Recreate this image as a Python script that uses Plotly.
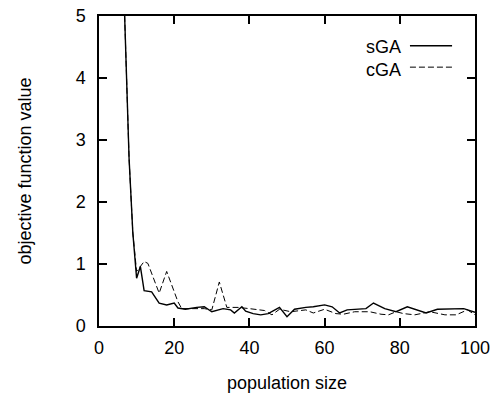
import plotly.graph_objects as go

# Objective function value vs. population size for the two GA variants
pop_sga = [6, 8, 9, 10, 11, 12, 14, 16, 18, 20, 21, 23, 26, 28, 30, 33, 35, 36, 38, 39,
           41, 43, 45, 48, 50, 52, 55, 57, 60, 62, 64, 66, 71, 73, 76, 79, 82, 84, 87,
           90, 95, 97, 100]
obj_sga = [6.6, 2.7, 1.5, 0.77, 0.96, 0.57, 0.55, 0.37, 0.34, 0.37, 0.29, 0.27, 0.30,
           0.31, 0.23, 0.28, 0.26, 0.21, 0.31, 0.24, 0.20, 0.18, 0.20, 0.30, 0.15, 0.27,
           0.30, 0.31, 0.34, 0.31, 0.21, 0.26, 0.28, 0.37, 0.28, 0.23, 0.31, 0.27, 0.21,
           0.27, 0.28, 0.28, 0.22]

pop_cga = [6, 8, 9, 10, 12, 13, 16, 18, 21, 22, 25, 28, 30, 32, 34, 37, 40, 44, 46, 48,
           51, 55, 57, 60, 63, 65, 68, 72, 75, 77, 79, 81, 84, 88, 92, 95, 98, 100]
obj_cga = [6.6, 2.7, 1.5, 0.88, 1.04, 1.01, 0.53, 0.88, 0.39, 0.28, 0.28, 0.28, 0.26,
           0.71, 0.30, 0.30, 0.28, 0.25, 0.18, 0.27, 0.23, 0.26, 0.21, 0.27, 0.20, 0.19,
           0.23, 0.23, 0.19, 0.18, 0.23, 0.20, 0.18, 0.23, 0.18, 0.18, 0.26, 0.18]

x_ticks = [0, 20, 40, 60, 80, 100]
y_ticks = [0, 1, 2, 3, 4, 5]
series_names = ["sGA", "cGA"]

FONT = "Liberation Sans, Arial, Helvetica, sans-serif"

fig = go.Figure()
fig.add_trace(go.Scatter(x=pop_sga, y=obj_sga, mode="lines", name=series_names[0],
                         line=dict(color="black", width=1.4), showlegend=False))
fig.add_trace(go.Scatter(x=pop_cga, y=obj_cga, mode="lines", name=series_names[1],
                         line=dict(color="black", width=1.0, dash="6px,3px"),
                         showlegend=False))

axis_common = dict(showline=True, linecolor="black", linewidth=1.5, mirror="allticks",
                   ticks="inside", ticklen=8, tickwidth=1.5, tickcolor="black",
                   showgrid=False, zeroline=False, automargin=False,
                   tickfont=dict(family=FONT, size=18, color="black"))

fig.update_xaxes(range=[0, 100], tickvals=x_ticks, ticktext=[str(v) for v in x_ticks],
                 ticklabelstandoff=5,
                 title=dict(text="population size", standoff=19,
                            font=dict(family=FONT, size=18, color="black")),
                 **axis_common)
fig.update_yaxes(range=[0, 5], tickvals=y_ticks, ticktext=[str(v) for v in y_ticks],
                 ticklabelstandoff=8,
                 title=dict(text="objective function value", standoff=39,
                            font=dict(family=FONT, size=18, color="black")),
                 **axis_common)

# Hand-built legend: label on the left, line sample on the right
legend_rows = [(series_names[0], 0.901, 0.904, "solid", 1.4),
               (series_names[1], 0.826, 0.835, "6px,3px", 1.0)]
for name, ty, ly, dash, w in legend_rows:
    fig.add_annotation(x=0.8085, y=ty, xref="paper", yref="paper", text=name,
                       showarrow=False, xanchor="right", yanchor="middle",
                       font=dict(family=FONT, size=18, color="black"))
    fig.add_shape(type="line", xref="paper", yref="paper", x0=0.827, x1=0.939,
                  y0=ly, y1=ly, line=dict(color="black", width=w, dash=dash))

fig.update_layout(width=492, height=403, margin=dict(l=99, r=17, t=16, b=77),
                  paper_bgcolor="white", plot_bgcolor="white")

fig.write_html("out.html")
